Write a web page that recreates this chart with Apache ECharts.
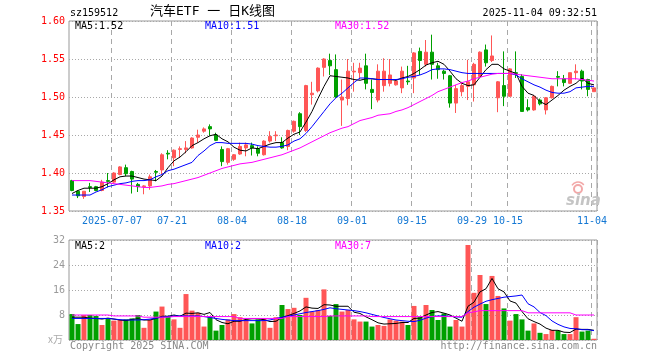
<!DOCTYPE html>
<html><head><meta charset="utf-8">
<script src="https://cdn.jsdelivr.net/npm/echarts@6/dist/echarts.min.js"></script>
<style>html,body{margin:0;padding:0;background:#fff}#c{width:660px;height:360px}</style>
</head><body><div id="c"></div>
<script>
// ---- data ----
const dates = ['2025-06-26','2025-06-27','2025-06-30','2025-07-01','2025-07-02','2025-07-03','2025-07-04','2025-07-07','2025-07-08','2025-07-09',
'2025-07-10','2025-07-11','2025-07-14','2025-07-15','2025-07-16','2025-07-17','2025-07-18','2025-07-21','2025-07-22','2025-07-23',
'2025-07-24','2025-07-25','2025-07-28','2025-07-29','2025-07-30','2025-07-31','2025-08-01','2025-08-04','2025-08-05','2025-08-06',
'2025-08-07','2025-08-08','2025-08-11','2025-08-12','2025-08-13','2025-08-14','2025-08-15','2025-08-18','2025-08-19','2025-08-20',
'2025-08-21','2025-08-22','2025-08-25','2025-08-26','2025-08-27','2025-08-28','2025-08-29','2025-09-01','2025-09-02','2025-09-03',
'2025-09-04','2025-09-05','2025-09-08','2025-09-09','2025-09-10','2025-09-11','2025-09-12','2025-09-15','2025-09-16','2025-09-17',
'2025-09-18','2025-09-19','2025-09-22','2025-09-23','2025-09-24','2025-09-25','2025-09-26','2025-09-29','2025-09-30','2025-10-09',
'2025-10-10','2025-10-13','2025-10-14','2025-10-15','2025-10-16','2025-10-17','2025-10-20','2025-10-21','2025-10-22','2025-10-23',
'2025-10-24','2025-10-27','2025-10-28','2025-10-29','2025-10-30','2025-10-31','2025-11-03','2025-11-04'];

const opens = [1.390,1.376,1.369,1.382,1.382,1.377,1.390,1.388,1.398,1.407,
1.402,1.385,1.382,1.383,1.402,1.404,1.426,1.420,1.431,1.431,
1.433,1.447,1.455,1.461,1.450,1.431,1.414,1.418,1.425,1.433,
1.436,1.432,1.424,1.442,1.449,1.440,1.435,1.455,1.478,1.456,
1.503,1.508,1.539,1.548,1.536,1.496,1.498,1.533,1.532,1.541,
1.510,1.496,1.515,1.518,1.516,1.512,1.521,1.525,1.560,1.543,
1.559,1.541,1.534,1.528,1.492,1.507,1.514,1.516,1.527,1.562,
1.548,1.499,1.515,1.501,1.532,1.527,1.486,1.483,1.496,1.483,
1.499,1.527,1.524,1.518,1.532,1.534,1.523,1.507];

const closes = [1.377,1.370,1.376,1.381,1.377,1.388,1.389,1.400,1.408,1.399,
1.392,1.382,1.383,1.395,1.401,1.424,1.425,1.430,1.432,1.433,
1.446,1.450,1.458,1.458,1.443,1.415,1.432,1.424,1.435,1.437,
1.433,1.426,1.442,1.448,1.450,1.433,1.456,1.468,1.461,1.515,
1.505,1.538,1.550,1.541,1.500,1.500,1.534,1.534,1.538,1.518,
1.506,1.534,1.534,1.529,1.521,1.534,1.520,1.558,1.548,1.559,
1.543,1.536,1.531,1.492,1.511,1.515,1.520,1.543,1.559,1.545,
1.554,1.520,1.501,1.537,1.531,1.481,1.483,1.501,1.491,1.499,
1.514,1.526,1.519,1.532,1.534,1.521,1.510,1.512];

const lows = [1.376,1.367,1.366,1.375,1.376,1.376,1.381,1.387,1.397,1.396,
1.373,1.375,1.372,1.378,1.389,1.398,1.418,1.409,1.420,1.426,
1.432,1.440,1.453,1.449,1.442,1.409,1.411,1.416,1.424,1.422,
1.423,1.422,1.423,1.440,1.442,1.432,1.430,1.453,1.450,1.454,
1.490,1.506,1.527,1.529,1.499,1.462,1.489,1.507,1.523,1.510,
1.484,1.493,1.507,1.514,1.515,1.505,1.516,1.505,1.529,1.540,
1.523,1.524,1.523,1.486,1.479,1.501,1.496,1.494,1.525,1.540,
1.546,1.480,1.488,1.500,1.525,1.481,1.481,1.482,1.489,1.477,
1.498,1.514,1.514,1.517,1.523,1.510,1.501,1.507];

const highs = [1.391,1.377,1.376,1.387,1.383,1.391,1.400,1.401,1.409,1.411,
1.403,1.387,1.384,1.398,1.404,1.426,1.430,1.431,1.435,1.442,
1.447,1.457,1.460,1.464,1.453,1.435,1.433,1.425,1.440,1.440,
1.440,1.435,1.443,1.455,1.455,1.447,1.457,1.469,1.480,1.516,
1.520,1.539,1.551,1.557,1.556,1.523,1.550,1.545,1.545,1.557,
1.523,1.543,1.551,1.550,1.522,1.540,1.541,1.559,1.565,1.575,
1.582,1.545,1.536,1.529,1.516,1.520,1.549,1.545,1.560,1.569,
1.581,1.521,1.560,1.538,1.560,1.530,1.497,1.502,1.498,1.500,
1.515,1.534,1.529,1.532,1.543,1.536,1.524,1.512];

const ma5 = [1.373,1.377,1.380,1.380,1.380,1.382,1.386,1.391,1.395,1.396,
1.396,1.394,1.392,1.391,1.390,1.396,1.407,1.416,1.421,1.428,
1.436,1.440,1.445,1.449,1.451,1.445,1.441,1.434,1.430,1.429,
1.433,1.432,1.435,1.438,1.440,1.440,1.446,1.451,1.454,1.467,
1.481,1.498,1.514,1.528,1.527,1.526,1.525,1.523,1.522,1.524,
1.524,1.523,1.523,1.523,1.522,1.525,1.527,1.531,1.536,1.542,
1.545,1.547,1.543,1.534,1.524,1.518,1.515,1.516,1.526,1.536,
1.543,1.543,1.537,1.534,1.531,1.514,1.505,1.502,1.494,1.490,
1.496,1.502,1.509,1.514,1.518,1.525,1.518,1.516];

const ma10 = [1.371,1.371,1.371,1.371,1.375,1.378,1.382,1.384,1.386,1.387,
1.389,1.390,1.390,1.391,1.395,1.398,1.403,1.405,1.408,1.411,
1.414,1.423,1.429,1.436,1.440,1.440,1.439,1.439,1.439,1.439,
1.438,1.436,1.435,1.434,1.434,1.435,1.437,1.442,1.445,1.452,
1.461,1.471,1.481,1.491,1.499,1.505,1.512,1.519,1.525,1.525,
1.524,1.523,1.523,1.523,1.523,1.524,1.526,1.527,1.529,1.532,
1.536,1.537,1.537,1.536,1.534,1.532,1.531,1.531,1.531,1.531,
1.531,1.531,1.531,1.531,1.529,1.524,1.520,1.516,1.513,1.509,
1.506,1.505,1.505,1.507,1.512,1.513,1.514,1.514];

const ma30 = [1.390,1.390,1.390,1.390,1.389,1.388,1.387,1.386,1.385,1.384,
1.383,1.382,1.381,1.381,1.382,1.383,1.385,1.386,1.388,1.390,
1.392,1.394,1.397,1.400,1.403,1.406,1.408,1.410,1.412,1.413,
1.414,1.416,1.418,1.420,1.422,1.424,1.427,1.430,1.433,1.437,
1.441,1.445,1.449,1.453,1.456,1.459,1.461,1.465,1.469,1.471,
1.473,1.476,1.477,1.478,1.481,1.483,1.486,1.490,1.494,1.498,
1.502,1.507,1.510,1.513,1.516,1.519,1.521,1.524,1.526,1.528,
1.530,1.531,1.531,1.531,1.530,1.529,1.528,1.527,1.526,1.525,
1.524,1.524,1.524,1.524,1.524,1.523,1.522,1.521];

const volumes = [8.3,5.1,8.0,8.0,7.7,4.8,6.9,6.2,6.4,6.6,
6.9,8.0,3.9,6.4,9.1,10.7,7.7,6.6,3.9,14.7,
9.4,8.7,4.3,7.3,3.0,4.8,6.6,8.3,7.3,6.6,
5.3,6.6,6.9,3.9,7.3,11.2,9.9,10.3,8.0,13.5,
9.1,9.6,16.2,7.7,11.5,9.1,9.6,6.6,5.9,5.9,
4.3,4.8,4.5,6.6,6.2,5.9,4.8,10.9,7.3,11.2,
9.6,6.4,8.5,4.3,6.4,4.3,30.4,15.1,20.8,11.5,
20.5,14.1,10.1,6.2,8.3,6.6,3.0,5.3,2.3,1.9,
3.2,3.0,1.9,1.9,7.3,2.7,3.0,0.4];

const vma5 = [7.3,7.3,7.3,7.0,6.9,6.7,7.0,6.7,6.4,6.2,
6.6,6.8,6.4,6.4,6.9,7.6,7.6,8.0,7.6,8.6,
8.5,8.7,8.2,8.8,6.5,5.6,5.2,6.0,6.0,6.6,
6.8,6.8,6.5,5.9,6.0,7.2,7.8,8.5,9.3,10.6,
10.2,10.1,11.3,11.2,10.8,10.8,10.8,8.9,8.5,7.4,
6.5,5.5,5.1,5.2,5.3,5.6,5.6,6.9,7.0,8.0,
8.8,9.1,8.6,8.0,7.0,6.0,10.8,12.1,15.4,16.4,
19.7,16.4,15.4,12.5,11.8,9.1,6.8,5.9,5.1,3.8,
3.1,3.1,2.5,2.4,3.5,3.4,3.4,3.1];

const vma10 = [6.9,6.9,6.9,6.9,6.9,6.9,6.9,6.7,6.5,6.4,
6.4,6.4,6.5,6.7,7.0,7.3,7.5,7.7,7.7,7.7,
7.7,7.7,7.5,7.2,6.9,6.6,6.4,6.2,6.2,6.2,
6.2,6.2,6.2,6.4,6.9,7.3,7.6,8.0,8.4,8.8,
9.1,9.4,9.8,10.3,10.0,9.8,9.6,9.4,9.1,8.7,
8.2,7.7,7.2,6.8,6.4,6.2,6.0,5.9,6.3,7.0,
7.5,7.7,7.7,7.6,7.4,7.3,9.1,10.5,11.5,12.4,
12.9,13.3,13.7,13.9,14.1,14.4,11.6,10.6,8.8,7.8,
6.1,5.0,4.2,3.7,3.6,3.3,3.3,3.0];

const vma30 = [8.0,8.0,8.0,8.0,8.0,8.0,8.0,7.7,7.7,7.7,
7.7,7.7,7.3,7.3,7.3,7.3,7.3,7.5,7.5,7.5,
7.5,7.5,7.5,7.5,7.5,7.5,7.5,7.5,6.9,6.9,
6.9,6.9,6.9,6.9,6.9,6.9,7.5,7.5,7.5,7.5,
7.5,7.5,7.5,7.7,7.7,7.7,7.7,7.7,7.7,7.7,
7.5,7.5,7.5,7.5,7.5,7.5,7.5,7.5,7.5,7.5,
7.5,7.5,7.5,7.5,7.5,7.5,8.7,9.0,9.4,9.4,
9.4,9.4,9.4,9.4,9.4,9.4,8.7,8.7,8.7,8.7,
8.7,8.7,8.7,8.7,8.0,8.0,8.0,8.0];

const tickDates  = ['2025-07-07','2025-07-21','2025-08-04','2025-08-18','2025-09-01','2025-09-15','2025-09-29','2025-10-15','2025-11-04'];
const tickLabels = ['2025-07-07','07-21','08-04','08-18','09-01','09-15','09-29','10-15','11-04'];

// ---- styles ----
const UP = '#ff5656', DOWN = '#00a000';
const MONO = '"DejaVu Sans Mono", "Liberation Mono", monospace';
const GRIDC = '#a8a8a8';

const tickIdx = new Set(tickDates.map(d => dates.indexOf(d)));
const labelOf = {};
tickDates.forEach((d, k) => { labelOf[d] = tickLabels[k]; });
const showTick = (i) => tickIdx.has(i);

const candleData = dates.map((d, i) => [opens[i], closes[i], lows[i], highs[i]]);
const volData = volumes.map((v, i) => ({ value: v, itemStyle: { color: closes[i] >= opens[i] ? UP : DOWN } }));

function txt(x, y, text, fill, opts) {
  opts = opts || {};
  return { type: 'text', x: x, y: y, z: 100, silent: true,
    style: { text: text, fill: fill, font: opts.font || ('10px ' + MONO),
      align: opts.align || 'left', verticalAlign: 'middle' } };
}

const chart = echarts.init(document.getElementById('c'), null, { renderer: 'canvas', width: 660, height: 360 });

const xBase = {
  type: 'category', data: dates, boundaryGap: true,
  axisLine: { show: false }, axisTick: { show: false },
  splitLine: { show: true, interval: showTick, lineStyle: { color: GRIDC, type: [5, 4], width: 1 } }
};

chart.setOption({
  animation: false,
  backgroundColor: '#fff',
  grid: [
    { left: 69, top: 21, width: 528, height: 190, show: true, borderColor: '#999', borderWidth: 1, outerBoundsMode: 'none' },
    { left: 69, top: 240, width: 528, height: 100, show: true, borderColor: '#999', borderWidth: 1, outerBoundsMode: 'none' }
  ],
  xAxis: [
    Object.assign({}, xBase, { gridIndex: 0,
      axisLabel: { show: true, interval: showTick, formatter: (v) => labelOf[v] || '',
        color: '#1478d4', fontFamily: MONO, fontSize: 10, margin: 5, padding: [0, 4, 0, 0] } }),
    Object.assign({}, xBase, { gridIndex: 1, axisLabel: { show: false } })
  ],
  yAxis: [
    { gridIndex: 0, type: 'value', min: 1.35, max: 1.60, interval: 0.05, scale: true,
      axisLine: { show: false }, axisTick: { show: false },
      axisLabel: { color: '#ff0000', fontFamily: MONO, fontSize: 10, margin: 4, formatter: (v) => v.toFixed(2) },
      splitLine: { show: true, lineStyle: { color: GRIDC, type: [1, 2], width: 1 } } },
    { gridIndex: 1, type: 'value', min: 0, max: 32, interval: 8,
      axisLine: { show: false }, axisTick: { show: false },
      axisLabel: { color: '#999', fontFamily: MONO, fontSize: 10, margin: 4, formatter: (v) => v === 0 ? '' : String(v) },
      splitLine: { show: true, lineStyle: { color: GRIDC, type: [1, 2], width: 1 } } }
  ],
  series: [
    { type: 'candlestick', xAxisIndex: 0, yAxisIndex: 0, data: candleData, barWidth: 4,
      itemStyle: { color: UP, color0: DOWN, borderColor: UP, borderColor0: DOWN, borderWidth: 1 } },
    { type: 'line', xAxisIndex: 0, yAxisIndex: 0, data: ma5, symbol: 'none', z: 5, lineStyle: { color: '#000', width: 1 } },
    { type: 'line', xAxisIndex: 0, yAxisIndex: 0, data: ma10, symbol: 'none', z: 5, lineStyle: { color: '#0000ff', width: 1 } },
    { type: 'line', xAxisIndex: 0, yAxisIndex: 0, data: ma30, symbol: 'none', z: 5, lineStyle: { color: '#ff00ff', width: 1 } },
    { type: 'bar', xAxisIndex: 1, yAxisIndex: 1, data: volData, barWidth: 5 },
    { type: 'line', xAxisIndex: 1, yAxisIndex: 1, data: vma5, symbol: 'none', z: 5, lineStyle: { color: '#000', width: 1 } },
    { type: 'line', xAxisIndex: 1, yAxisIndex: 1, data: vma10, symbol: 'none', z: 5, lineStyle: { color: '#0000ff', width: 1 } },
    { type: 'line', xAxisIndex: 1, yAxisIndex: 1, data: vma30, symbol: 'none', z: 5, lineStyle: { color: '#ff00ff', width: 1 } }
  ],
  graphic: [
    txt(70, 13, 'sz159512', '#000'),
    txt(150, 12, '汽车ETF 一 日K线图', '#000', { font: '13px "DejaVu Sans Mono", "Noto Sans CJK SC", sans-serif' }),
    txt(597, 13, '2025-11-04 09:32:51', '#000', { align: 'right' }),
    txt(75, 26, 'MA5:1.52', '#000'),
    txt(205, 26, 'MA10:1.51', '#0000ff'),
    txt(335, 26, 'MA30:1.52', '#ff00ff'),
    txt(75, 246, 'MA5:2', '#000'),
    txt(205, 246, 'MA10:2', '#0000ff'),
    txt(335, 246, 'MA30:7', '#ff00ff'),
    txt(48, 339, 'x万', '#aaa', { font: '10px "Noto Sans CJK SC", sans-serif' }),
    txt(70, 346, 'Copyright 2025 SINA.COM', '#888'),
    txt(597, 346, 'http://finance.sina.com.cn', '#888', { align: 'right' }),
    { type: 'circle', z: 1, silent: true, shape: { cx: 578, cy: 189, r: 4 }, style: { fill: 'none', stroke: '#f2a8a8', lineWidth: 2 } },
    { type: 'arc', z: 1, silent: true, shape: { cx: 578, cy: 189, r: 7, startAngle: -2.6, endAngle: -0.6 }, style: { fill: 'none', stroke: '#f2a8a8', lineWidth: 1.5 } },
    txt(566, 201, 'sina', '#c4c4c4', { font: 'italic bold 15px "DejaVu Sans", sans-serif' })
  ]
});
</script>
</body></html>
